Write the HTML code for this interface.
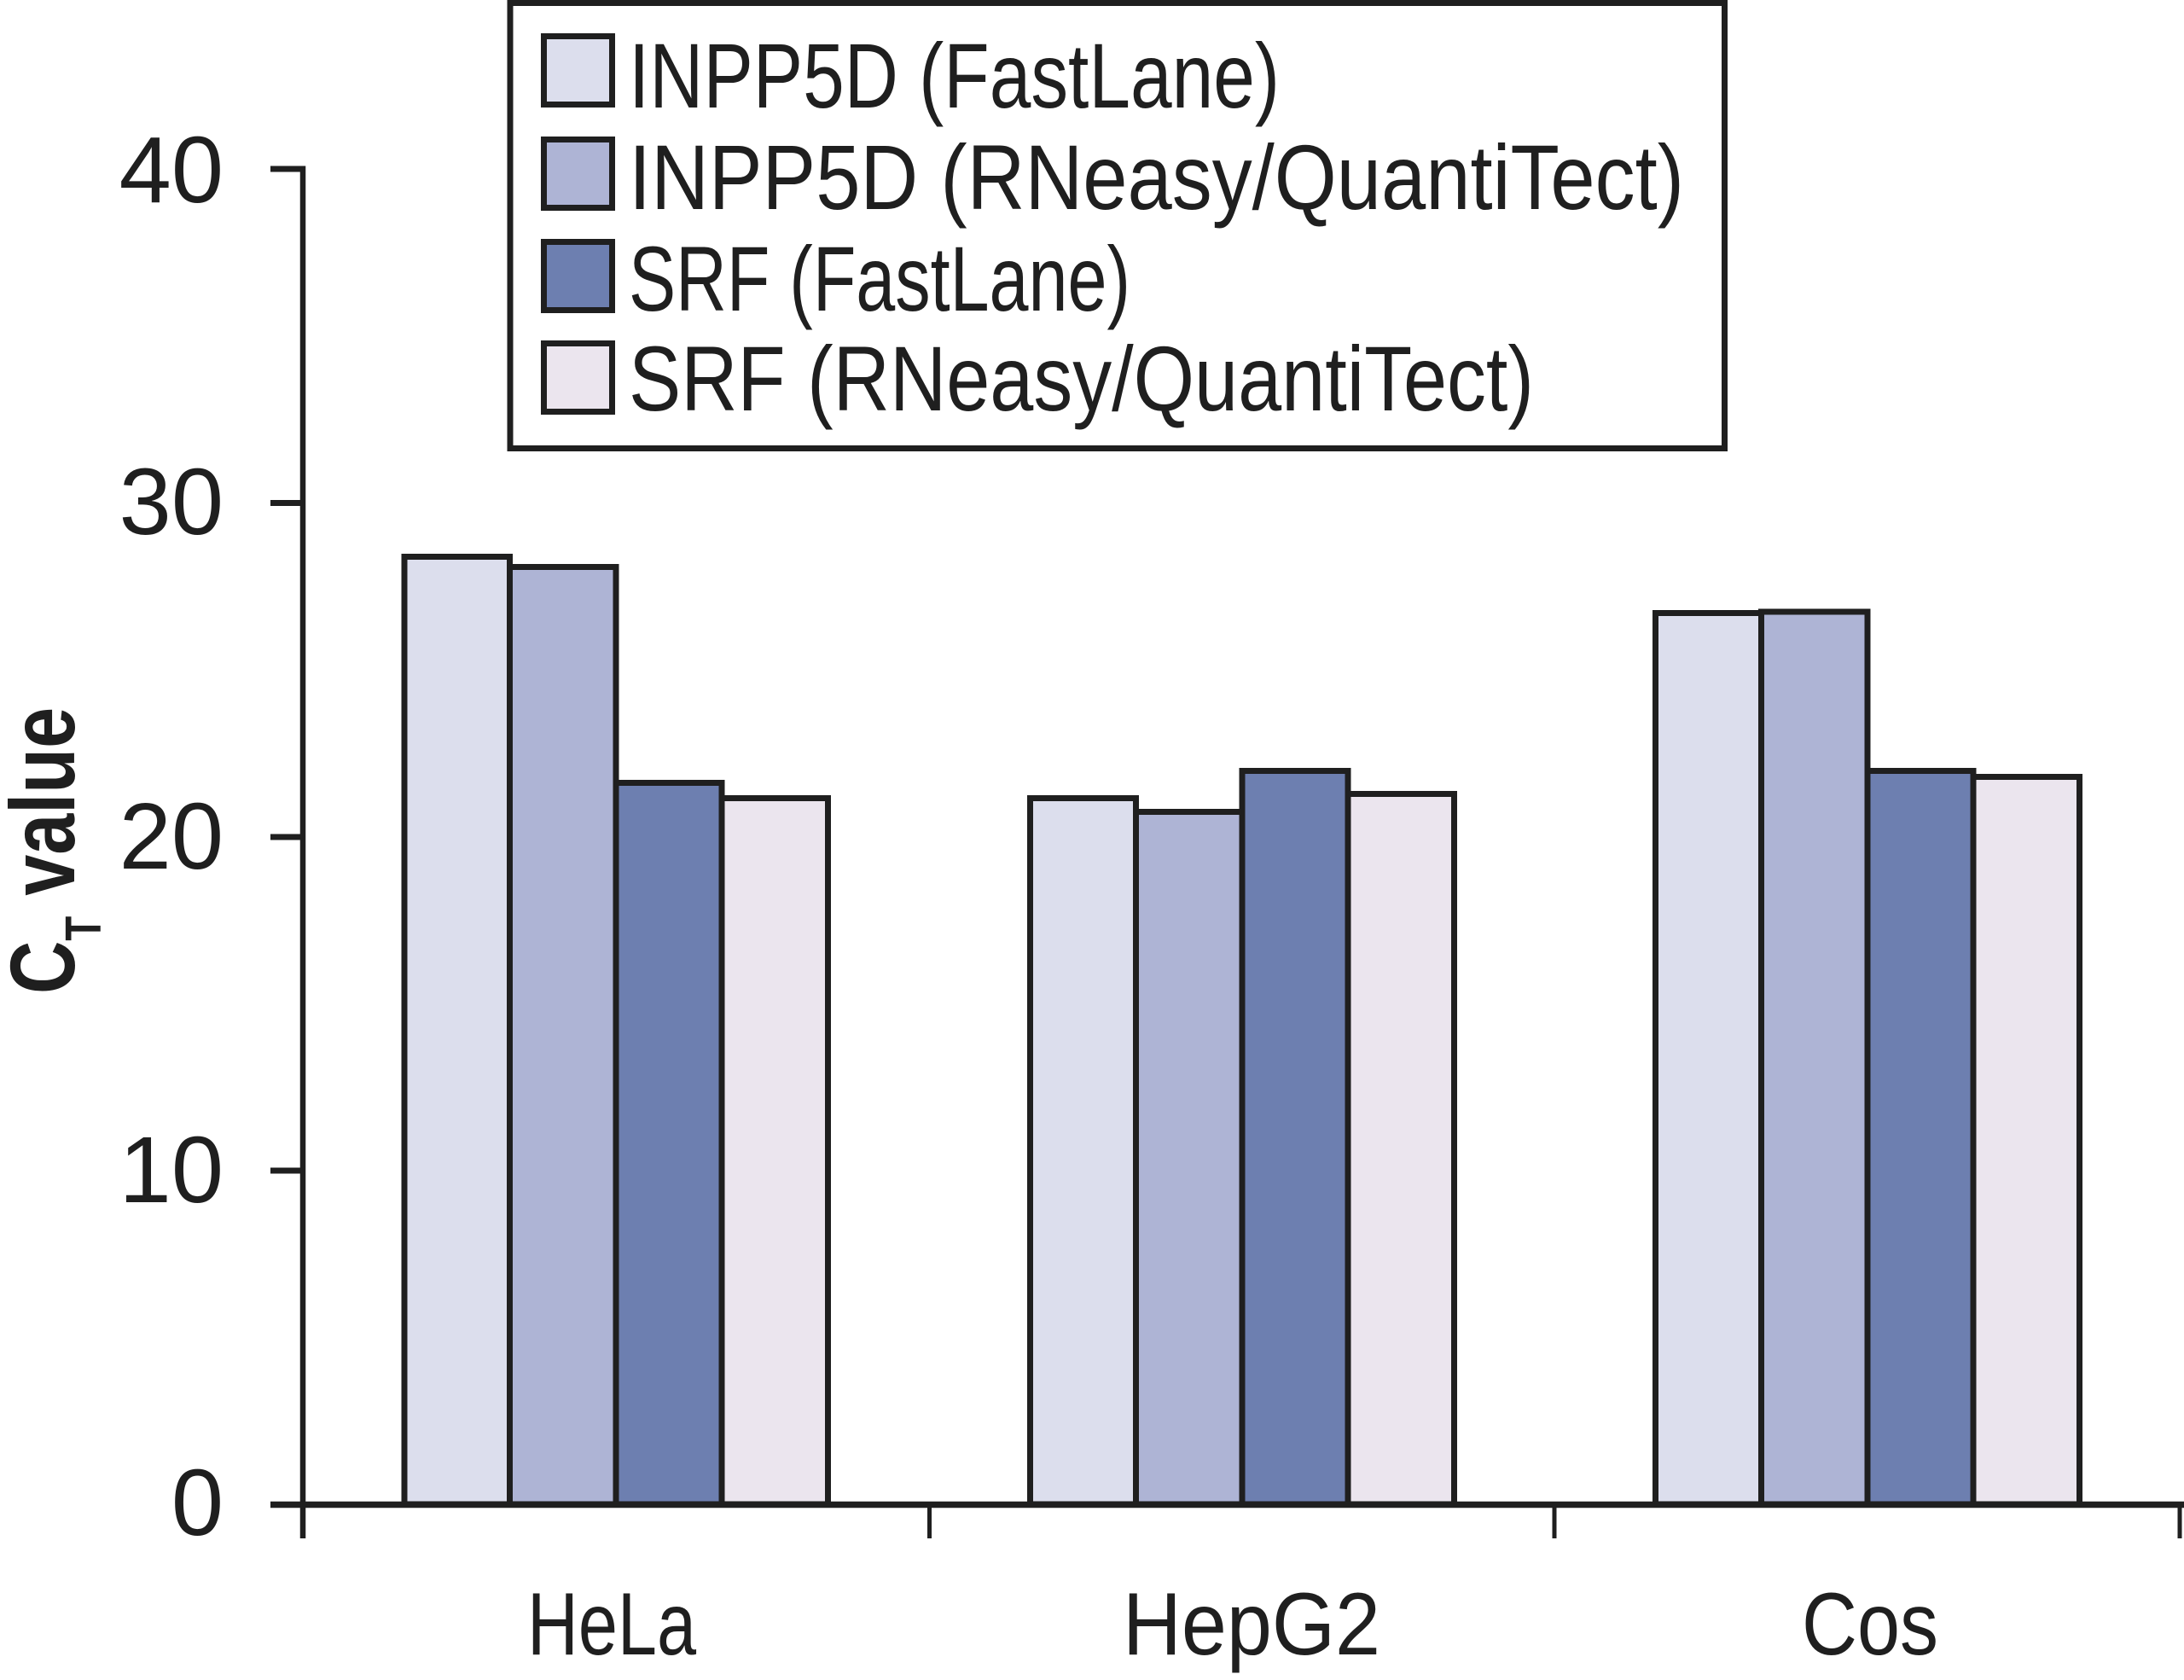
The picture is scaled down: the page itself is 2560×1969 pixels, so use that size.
<!DOCTYPE html>
<html>
<head>
<meta charset="utf-8">
<style>
html,body{margin:0;padding:0;background:#fff;}
svg{display:block;}
text{font-family:"Liberation Sans",Arial,sans-serif;fill:#1f1f1f;}
</style>
</head>
<body>
<svg width="2560" height="1969" viewBox="0 0 2560 1969" xmlns="http://www.w3.org/2000/svg">
<rect x="0" y="0" width="2560" height="1969" fill="#fff"/>

<!-- Legend -->
<rect x="598" y="3.5" width="1423.5" height="522" fill="#fff" stroke="#1f1f1f" stroke-width="7"/>
<rect x="637.5" y="42.5" width="80" height="80" fill="#dcdeed" stroke="#1f1f1f" stroke-width="7"/>
<rect x="637.5" y="163.5" width="80" height="80" fill="#aeb4d5" stroke="#1f1f1f" stroke-width="7"/>
<rect x="637.5" y="283.5" width="80" height="80" fill="#6d7fb0" stroke="#1f1f1f" stroke-width="7"/>
<rect x="637.5" y="402.5" width="80" height="80" fill="#ebe5ee" stroke="#1f1f1f" stroke-width="7"/>
<text x="737" y="126" font-size="108" textLength="763" lengthAdjust="spacingAndGlyphs">INPP5D (FastLane)</text>
<text x="737" y="245" font-size="108" textLength="1237" lengthAdjust="spacingAndGlyphs">INPP5D (RNeasy/QuantiTect)</text>
<text x="737" y="364" font-size="108" textLength="588" lengthAdjust="spacingAndGlyphs">SRF (FastLane)</text>
<text x="737" y="481" font-size="108" textLength="1061" lengthAdjust="spacingAndGlyphs">SRF (RNeasy/QuantiTect)</text>

<!-- Bars: HeLa -->
<g stroke="#1f1f1f" stroke-width="7">
<rect x="474" y="652.5" width="123.5" height="1110.5" fill="#dcdeed"/>
<rect x="597.5" y="664.5" width="124.5" height="1098.5" fill="#aeb4d5"/>
<rect x="722" y="917.5" width="124" height="845.5" fill="#6d7fb0"/>
<rect x="846" y="935.5" width="124.5" height="827.5" fill="#ebe5ee"/>
<!-- HepG2 -->
<rect x="1207.5" y="935.5" width="124" height="827.5" fill="#dcdeed"/>
<rect x="1331.5" y="951.5" width="124.5" height="811.5" fill="#aeb4d5"/>
<rect x="1456" y="903.5" width="124" height="859.5" fill="#6d7fb0"/>
<rect x="1580" y="930.5" width="124.5" height="832.5" fill="#ebe5ee"/>
<!-- Cos -->
<rect x="1940.5" y="718.5" width="124" height="1044.5" fill="#dcdeed"/>
<rect x="2064.5" y="717" width="124.5" height="1046" fill="#aeb4d5"/>
<rect x="2189" y="903.5" width="124" height="859.5" fill="#6d7fb0"/>
<rect x="2313" y="910.5" width="124.5" height="852.5" fill="#ebe5ee"/>
</g>

<!-- Axes -->
<g stroke="#1f1f1f" fill="none">
<line x1="355" y1="194.5" x2="355" y2="1803" stroke-width="6.5"/>
<line x1="317" y1="1763.5" x2="2560" y2="1763.5" stroke-width="7.5"/>
<line x1="317" y1="198" x2="358" y2="198" stroke-width="7"/>
<line x1="317" y1="589.5" x2="355" y2="589.5" stroke-width="7"/>
<line x1="317" y1="981" x2="355" y2="981" stroke-width="7"/>
<line x1="317" y1="1372" x2="355" y2="1372" stroke-width="7"/>
<line x1="1089.5" y1="1763" x2="1089.5" y2="1803" stroke-width="5"/>
<line x1="1822" y1="1763" x2="1822" y2="1803" stroke-width="5"/>
<line x1="2555" y1="1763" x2="2555" y2="1803" stroke-width="5"/>
</g>

<!-- Y tick labels -->
<g font-size="110" text-anchor="end">
<text x="262" y="237">40</text>
<text x="262" y="626">30</text>
<text x="262" y="1018">20</text>
<text x="262" y="1409">10</text>
<text x="262" y="1799">0</text>
</g>

<!-- X labels -->
<g font-size="104" text-anchor="middle">
<text x="717" y="1939" textLength="198" lengthAdjust="spacingAndGlyphs">HeLa</text>
<text x="1467" y="1939" textLength="302" lengthAdjust="spacingAndGlyphs">HepG2</text>
<text x="2192" y="1939" textLength="160" lengthAdjust="spacingAndGlyphs">Cos</text>
</g>

<!-- Y axis title -->
<text transform="translate(87,1165) rotate(-90) scale(0.8,1)" font-size="108" font-weight="bold">C<tspan font-size="59" dy="31">T</tspan><tspan dy="-31"> value</tspan></text>
</svg>
</body>
</html>
